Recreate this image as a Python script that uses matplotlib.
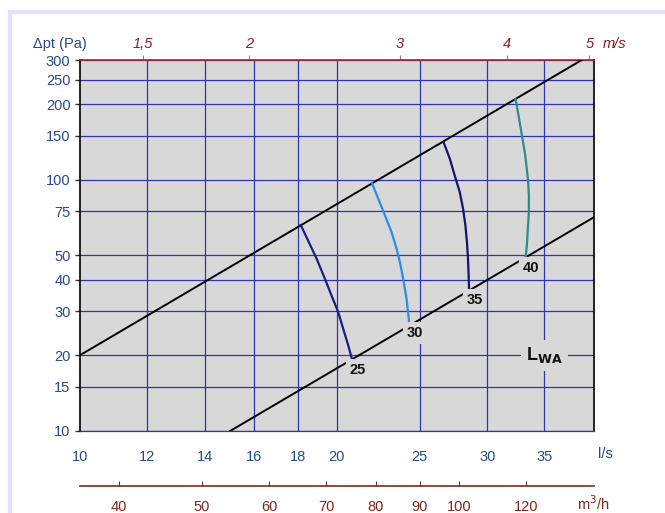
import numpy as np
import matplotlib
matplotlib.use('Agg')
from matplotlib import pyplot as plt
from matplotlib.patches import Rectangle
from matplotlib.ticker import NullLocator

plt.rcParams['font.family'] = ['Liberation Sans', 'DejaVu Sans']

# data (flow l/s, pressure Pa)
flow_ticks = [10, 12, 14, 16, 18, 20, 25, 30, 35]
dp_ticks = [10, 15, 20, 30, 40, 50, 75, 100, 150, 200, 250, 300]
ms_ticks = [1.5, 2, 3, 4, 5]
ms_labels = ['1,5', '2', '3', '4', '5']
m3h_ticks = [40, 50, 60, 70, 80, 90, 100, 120]

upper_q = [10, 38.7]
upper_dp = [20, 300]
lower_q = [15, 40]
lower_dp = [10, 71]

lwa_levels = ['25', '30', '35', '40']
lwa_q = [
    [18.15, 18.93, 19.36, 19.71, 20.07, 20.34, 20.62, 20.82],
    [21.99, 22.35, 22.76, 23.17, 23.49, 23.70, 23.91, 24.13, 24.30],
    [26.67, 27.11, 27.47, 27.85, 28.10, 28.28, 28.40, 28.48, 28.53, 28.56],
    [32.38, 32.58, 32.93, 33.23, 33.47, 33.56, 33.56, 33.47, 33.38, 33.27],
]
lwa_dp = [
    [66.0, 48.7, 40.5, 34.7, 29.8, 25.6, 21.96, 19.45],
    [96.8, 84.4, 72.4, 62.1, 53.3, 47.2, 40.5, 33.7, 27.2],
    [141.0, 121.8, 104.4, 89.6, 77.0, 66.0, 56.6, 48.7, 41.7, 36.9],
    [209.7, 186.7, 150.8, 125.5, 101.3, 87.0, 74.6, 64.1, 55.0, 49.4],
]
lwa_colors = ['#1c1c86', '#2a8cf0', '#141470', '#2a8c8c']

area_factor = 7.9  # l/s per m/s

blue_txt = '#264a8c'
red_txt = '#8c1c1c'
brown = '#7a2a1a'
grid_c = '#3434a8'
bg = '#d8d8d8'

fig = plt.figure(figsize=(6.65, 5.13), dpi=100)
fig.patches.append(Rectangle((10 / 665, -0.1), 1.2, (513 - 12) / 513 + 0.1,
                             transform=fig.transFigure, fill=False,
                             edgecolor='#dde3f8', linewidth=3, zorder=0))

ax = fig.add_axes([79.7 / 665, 82 / 513, 514.3 / 665, 371 / 513])
ax.set_facecolor(bg)
ax.set_xscale('log')
ax.set_yscale('log')
ax.set_xlim(10, 40)
ax.set_ylim(10, 300)

for q in flow_ticks[1:]:
    ax.axvline(q, color=grid_c, lw=0.9, zorder=1)
for p in dp_ticks:
    ax.axhline(p, color=grid_c, lw=0.9, zorder=1)

ax.plot(upper_q, upper_dp, color='black', lw=1.4, zorder=3)
ax.plot(lower_q, lower_dp, color='black', lw=1.4, zorder=3)

for qs, ps, c, lab in zip(lwa_q, lwa_dp, lwa_colors, lwa_levels):
    ax.plot(qs, ps, color=c, lw=1.6, zorder=3)
    ax.annotate(lab, (qs[-1], ps[-1]), xytext=(4, -8), textcoords='offset points',
                ha='center', va='center', fontsize=10.5, fontweight='bold', color='#111111',
                bbox=dict(boxstyle='square,pad=0.25', fc=bg, ec='none'), zorder=4)

ax.text(35, 20, 'L$_{\\mathbf{WA}}$', fontsize=13, fontweight='bold', ha='center', va='center',
        color='#111111', bbox=dict(boxstyle='square,pad=0.3', fc=bg, ec='none'), zorder=4)

ax.xaxis.set_minor_locator(NullLocator())
ax.yaxis.set_minor_locator(NullLocator())
ax.set_xticks(flow_ticks)
ax.set_xticklabels([str(t) for t in flow_ticks])
ax.set_yticks(dp_ticks)
ax.set_yticklabels([str(t) for t in dp_ticks])
ax.tick_params(axis='x', length=0, pad=14, labelsize=10.5, labelcolor=blue_txt)
ax.tick_params(axis='y', length=3.6, width=1, color='#333333', pad=3, labelsize=10.5, labelcolor=blue_txt)

for s in ['left', 'right']:
    ax.spines[s].set_color('black')
    ax.spines[s].set_linewidth(1.2)
ax.spines['bottom'].set_color(grid_c)
ax.spines['bottom'].set_linewidth(0.9)
ax.spines['top'].set_color('#a02828')
ax.spines['top'].set_linewidth(1.2)

top = ax.secondary_xaxis('top', functions=(lambda q: q / area_factor, lambda v: v * area_factor))
top.set_xticks(ms_ticks)
top.set_xticklabels(ms_labels)
top.xaxis.set_minor_locator(NullLocator())
top.tick_params(axis='x', length=3.6, color='#c07070', pad=3.2, labelsize=10.5, labelcolor=red_txt)
for lbl in top.get_xticklabels():
    lbl.set_fontstyle('italic')
top.spines['top'].set_visible(False)

bot = ax.secondary_xaxis(-0.148, functions=(lambda q: q * 3.6, lambda m: m / 3.6))
bot.set_xticks(m3h_ticks)
bot.set_xticklabels([str(t) for t in m3h_ticks])
bot.xaxis.set_minor_locator(NullLocator())
bot.tick_params(axis='x', direction='in', length=3.6, color=brown, pad=10, labelsize=10.5, labelcolor=brown)
bot.spines['bottom'].set_color(brown)
bot.spines['bottom'].set_linewidth(1.2)

fig.text(60 / 665, 1 - 44 / 513, '\u0394pt (Pa)', fontsize=10.5, color=blue_txt, ha='center', va='center')
fig.text(615 / 665, 1 - 44 / 513, 'm/s', fontsize=10.5, color=red_txt, style='italic', ha='center', va='center')
fig.text(605 / 665, 1 - 454 / 513, 'l/s', fontsize=10.5, color=blue_txt, ha='center', va='center')
fig.text(593 / 665, 1 - 504 / 513, 'm$^3$/h', fontsize=10.5, color=brown, ha='center', va='center')

fig.savefig('out.png', dpi=100)
